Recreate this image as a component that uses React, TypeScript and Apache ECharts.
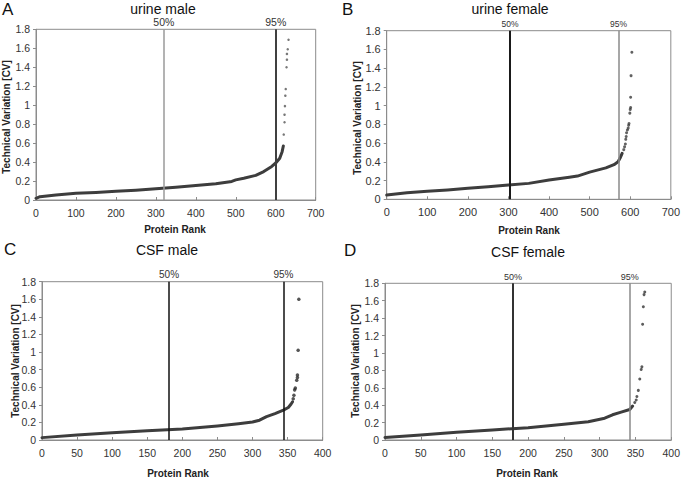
import React, { useEffect, useRef } from "react";
import * as echarts from "echarts";

// ---------- data ----------
// A: urine male
const urineMaleCurveRank = [0, 10, 50, 100, 150, 200, 250, 300, 350, 400, 450, 490, 500, 520, 550, 570, 590, 600, 610, 616, 619];
const urineMaleCurveCV = [0.018, 0.035, 0.053, 0.07, 0.08, 0.091, 0.104, 0.119, 0.135, 0.154, 0.172, 0.196, 0.212, 0.23, 0.26, 0.3, 0.354, 0.39, 0.44, 0.51, 0.57];
const urineMaleTailRank = [620, 622, 622, 623, 624, 625, 627, 628, 628, 630, 632];
const urineMaleTailCV = [0.69, 0.82, 0.9, 0.99, 1.1, 1.17, 1.4, 1.48, 1.54, 1.59, 1.69];
const urineMalePct = [320, 600];

// B: urine female
const urineFemaleCurveRank = [0, 50, 100, 150, 200, 250, 300, 350, 400, 450, 470, 500, 540, 560, 570, 575, 580];
const urineFemaleCurveCV = [0.045, 0.07, 0.085, 0.1, 0.117, 0.135, 0.153, 0.17, 0.205, 0.235, 0.248, 0.29, 0.335, 0.37, 0.4, 0.44, 0.49];
const urineFemaleTailRank = [584, 586, 588, 589, 590, 591, 593, 595, 596, 597, 599, 600, 601, 601, 602, 604];
const urineFemaleTailCV = [0.53, 0.56, 0.59, 0.64, 0.67, 0.71, 0.74, 0.76, 0.79, 0.81, 0.92, 0.96, 0.98, 1.09, 1.32, 1.57];
const urineFemalePct = [304, 571];

// C: CSF male
const csfMaleCurveRank = [0, 50, 100, 150, 200, 250, 280, 300, 310, 320, 332, 344, 351, 355, 357];
const csfMaleCurveCV = [0.027, 0.057, 0.083, 0.106, 0.125, 0.16, 0.185, 0.205, 0.225, 0.265, 0.3, 0.34, 0.37, 0.41, 0.435];
const csfMaleTailRank = [358, 359, 360, 361, 363, 364, 364, 365, 366];
const csfMaleTailCV = [0.47, 0.51, 0.57, 0.59, 0.68, 0.71, 0.74, 1.02, 1.6];
const csfMalePct = [181, 344];

// D: CSF female
const csfFemaleCurveRank = [0, 50, 100, 150, 200, 250, 284, 307, 318, 330, 342, 346];
const csfFemaleCurveCV = [0.03, 0.057, 0.088, 0.115, 0.142, 0.18, 0.21, 0.25, 0.29, 0.32, 0.35, 0.39];
const csfFemaleTailRank = [349, 351, 352, 354, 356, 358, 359, 360, 361, 362, 363];
const csfFemaleTailCV = [0.43, 0.46, 0.5, 0.57, 0.7, 0.81, 0.84, 1.33, 1.53, 1.67, 1.7];
const csfFemalePct = [179, 342];

const pctLabels = ["50%", "95%"];
const titles = ["urine male", "urine female", "CSF male", "CSF female"];
const letters = ["A", "B", "C", "D"];
const xAxisTitle = "Protein Rank";
const yAxisTitle = "Technical Variation [CV]";
const yTicks = { min: 0, max: 1.8, interval: 0.2 };

// ---------- layout ----------
const panels = [
  {
    curveRank: urineMaleCurveRank, curveCV: urineMaleCurveCV, tailRank: urineMaleTailRank, tailCV: urineMaleTailCV, pct: urineMalePct,
    left: 36, top: 29.3, width: 279.7, height: 170.7, xMax: 700, xInt: 100,
    pctColors: ["#9a9a9a", "#404040"], pctWidths: [1.5, 2], pctFont: 10.5, labelFont: 10.5,
    tailSize: 2.5, tailColor: "#555",
    title: { x: 163, y: 9 }, letter: { x: 2, y: 9 },
    xName: { x: 175, y: 229 }, yName: { x: 6, y: 117 },
  },
  {
    curveRank: urineFemaleCurveRank, curveCV: urineFemaleCurveCV, tailRank: urineFemaleTailRank, tailCV: urineFemaleTailCV, pct: urineFemalePct,
    left: 386.7, top: 30.7, width: 286.6, height: 168.6, xMax: 700, xInt: 100,
    pctColors: ["#1a1a1a", "#8a8a8a"], pctWidths: [2, 1.5], pctFont: 8.5, labelFont: 11,
    tailSize: 3, tailColor: "#3a3a3a",
    title: { x: 510, y: 9 }, letter: { x: 342, y: 9 },
    xName: { x: 529, y: 230 }, yName: { x: 357, y: 118 },
  },
  {
    curveRank: csfMaleCurveRank, curveCV: csfMaleCurveCV, tailRank: csfMaleTailRank, tailCV: csfMaleTailCV, pct: csfMalePct,
    left: 42, top: 281.7, width: 280.7, height: 158.3, xMax: 400, xInt: 50,
    pctColors: ["#111111", "#111111"], pctWidths: [1.5, 1.5], pctFont: 10, labelFont: 10.5,
    tailSize: 3.5, tailColor: "#2a2a2a",
    title: { x: 167, y: 250 }, letter: { x: 4, y: 249 },
    xName: { x: 178, y: 473 }, yName: { x: 15, y: 361 },
  },
  {
    curveRank: csfFemaleCurveRank, curveCV: csfFemaleCurveCV, tailRank: csfFemaleTailRank, tailCV: csfFemaleTailCV, pct: csfFemalePct,
    left: 385, top: 283.3, width: 289, height: 156.7, xMax: 400, xInt: 50,
    pctColors: ["#333333", "#8a8a8a"], pctWidths: [2, 1.5], pctFont: 9, labelFont: 10.5,
    tailSize: 3, tailColor: "#333",
    title: { x: 528, y: 251.5 }, letter: { x: 344, y: 250 },
    xName: { x: 527, y: 473 }, yName: { x: 355, y: 361 },
  },
];

const FONT = "'Liberation Sans', Arial, sans-serif";

function zip(a: number[], b: number[]) {
  return a.map((v, i) => [v, b[i]]);
}

function buildOption() {
  const grid = panels.map((p) => ({
    left: p.left, top: p.top, width: p.width, height: p.height,
    show: true, borderColor: "#8c8c8c", borderWidth: 1, backgroundColor: "transparent",
  }));
  const xAxis = panels.map((p, i) => ({
    gridIndex: i, type: "value", min: 0, max: p.xMax, interval: p.xInt,
    axisLine: { show: true, onZero: false, lineStyle: { color: "#8c8c8c", width: 1 } },
    axisTick: { show: true, inside: true, length: 3, lineStyle: { color: "#8c8c8c" } },
    axisLabel: { fontSize: p.labelFont, color: "#333", margin: 7, fontFamily: FONT },
    splitLine: { show: false },
  }));
  const yAxis = panels.map((p, i) => ({
    gridIndex: i, type: "value", min: yTicks.min, max: yTicks.max, interval: yTicks.interval,
    axisLine: { show: true, onZero: false, lineStyle: { color: "#8c8c8c", width: 1 } },
    axisTick: { show: true, inside: false, length: 3, lineStyle: { color: "#8c8c8c" } },
    axisLabel: { fontSize: p.labelFont, color: "#333", margin: 6, fontFamily: FONT },
    splitLine: { show: false },
  }));
  const series: any[] = [];
  panels.forEach((p, i) => {
    series.push({
      type: "line", xAxisIndex: i, yAxisIndex: i,
      data: zip(p.curveRank, p.curveCV),
      symbol: "none", showSymbol: false, smooth: false,
      lineStyle: { width: 3, color: "#3d3d3d", cap: "round", join: "round" },
      silent: true,
      markLine: {
        silent: true, symbol: ["none", "none"], animation: false,
        data: p.pct.map((v, k) => ({
          xAxis: v,
          lineStyle: { color: p.pctColors[k], width: p.pctWidths[k], type: "solid" },
          label: {
            show: true, position: "end", formatter: pctLabels[k], distance: 2,
            fontSize: p.pctFont, color: "#333", fontFamily: FONT,
          },
        })),
      },
    });
    series.push({
      type: "scatter", xAxisIndex: i, yAxisIndex: i,
      data: zip(p.tailRank, p.tailCV),
      symbol: "circle", symbolSize: p.tailSize,
      itemStyle: { color: p.tailColor },
      silent: true,
    });
  });
  const graphic: any[] = [];
  panels.forEach((p, i) => {
    graphic.push({
      type: "text", x: p.title.x, y: p.title.y, silent: true,
      style: { text: titles[i], fill: "#111", font: `14px ${FONT}`, align: "center", verticalAlign: "middle" },
    });
    graphic.push({
      type: "text", x: p.letter.x, y: p.letter.y, silent: true,
      style: { text: letters[i], fill: "#111", font: `17px ${FONT}`, align: "left", verticalAlign: "middle" },
    });
    graphic.push({
      type: "text", x: p.xName.x, y: p.xName.y, silent: true,
      style: { text: xAxisTitle, fill: "#222", font: `bold 10px ${FONT}`, align: "center", verticalAlign: "middle" },
    });
    graphic.push({
      type: "text", x: p.yName.x, y: p.yName.y, rotation: Math.PI / 2, silent: true,
      style: { text: yAxisTitle, fill: "#222", font: `bold 10px ${FONT}`, align: "center", verticalAlign: "middle" },
    });
  });
  return {
    animation: false,
    backgroundColor: "#ffffff",
    textStyle: { fontFamily: FONT },
    grid, xAxis, yAxis, series, graphic,
  };
}

export default function App() {
  const ref = useRef<HTMLDivElement>(null);
  useEffect(() => {
    document.body.style.margin = "0";
    const chart = echarts.init(ref.current!, null, { renderer: "svg" });
    chart.setOption(buildOption() as any);
    return () => chart.dispose();
  }, []);
  return <div ref={ref} style={{ width: 683, height: 481 }} />;
}
